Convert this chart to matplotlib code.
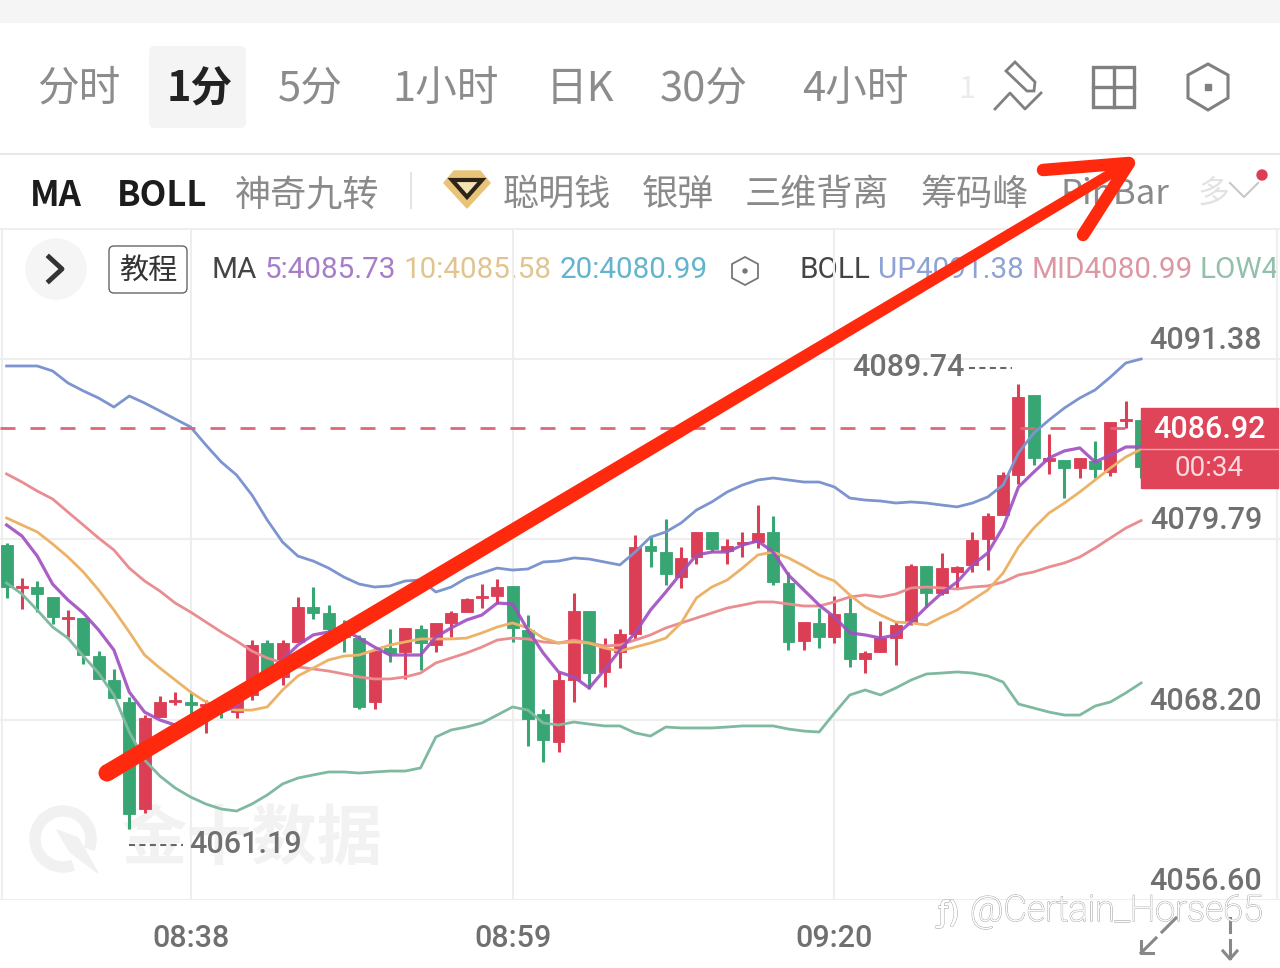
#1 minute candles with MA and BOLL lines, phone app style
import matplotlib
matplotlib.use("Agg")
import matplotlib.pyplot as plt
import matplotlib.patheffects as pe
from matplotlib.patches import Circle, FancyBboxPatch, Polygon, Rectangle, Wedge

opens = [4079.42, 4076.66, 4076.72, 4076.08, 4074.66, 4074.73, 4072.28, 4070.74, 4069.33, 4062.45,
         4068.36, 4069.33, 4069.33, 4069.07, 4069.14, 4068.68, 4069.78, 4073.12, 4070.94, 4073.19,
         4075.44, 4075.05, 4074.15, 4073.44, 4069.33, 4072.80, 4072.54, 4074.02, 4072.99, 4074.41,
         4075.11, 4076.02, 4076.15, 4076.79, 4073.96, 4068.56, 4066.76, 4070.74, 4075.18, 4071.26,
         4072.54, 4073.70, 4079.36, 4078.97, 4077.36, 4078.65, 4080.26, 4079.04, 4079.49, 4079.62,
         4080.26, 4076.98, 4073.25, 4074.41, 4073.51, 4075.05, 4072.09, 4072.54, 4073.44, 4074.41,
         4078.07, 4076.34, 4077.69, 4078.14, 4079.81, 4081.35, 4083.92, 4089.07, 4084.82, 4084.89,
         4084.37, 4084.82, 4084.12, 4087.39, 4087.46]
highs = [4079.55, 4077.30, 4077.11, 4076.08, 4075.24, 4074.73, 4072.60, 4071.45, 4069.65, 4068.49,
         4069.72, 4069.97, 4069.97, 4069.46, 4069.59, 4069.78, 4073.31, 4073.31, 4073.31, 4076.08,
         4076.72, 4075.56, 4074.60, 4073.64, 4072.80, 4074.02, 4074.09, 4074.28, 4074.41, 4075.18,
         4076.02, 4076.91, 4077.24, 4076.79, 4074.92, 4068.88, 4071.26, 4076.34, 4075.18, 4073.44,
         4074.02, 4080.06, 4079.93, 4081.09, 4079.29, 4080.26, 4080.26, 4079.81, 4080.26, 4081.99,
         4081.29, 4077.69, 4074.47, 4075.37, 4076.15, 4076.02, 4072.60, 4074.53, 4074.47, 4078.20,
         4078.07, 4078.91, 4078.07, 4080.26, 4081.48, 4084.11, 4089.74, 4089.07, 4086.56, 4084.89,
         4085.02, 4086.11, 4087.33, 4088.68, 4087.46]
lows = [4076.02, 4075.31, 4075.11, 4074.34, 4073.51, 4071.77, 4070.81, 4069.59, 4061.19, 4062.19,
        4068.36, 4069.14, 4068.36, 4067.34, 4068.30, 4068.30, 4069.46, 4070.42, 4070.42, 4073.19,
        4074.66, 4073.83, 4072.54, 4068.88, 4068.88, 4071.90, 4070.81, 4071.39, 4072.54, 4073.51,
        4075.11, 4075.37, 4075.63, 4073.19, 4066.50, 4065.47, 4066.11, 4069.33, 4070.16, 4070.29,
        4071.51, 4073.31, 4078.01, 4076.85, 4076.66, 4078.20, 4078.97, 4078.20, 4078.65, 4079.23,
        4076.85, 4072.67, 4072.67, 4072.80, 4073.12, 4071.58, 4071.19, 4072.54, 4071.71, 4074.28,
        4075.44, 4076.21, 4076.66, 4077.69, 4077.81, 4081.35, 4083.34, 4084.57, 4083.99, 4082.44,
        4083.73, 4083.73, 4083.86, 4086.94, 4083.73]
closes = [4076.72, 4076.79, 4076.27, 4074.79, 4074.79, 4072.35, 4070.81, 4069.59, 4062.13, 4068.30,
          4069.33, 4069.46, 4069.14, 4069.20, 4068.81, 4069.46, 4072.99, 4070.74, 4073.12, 4075.44,
          4075.05, 4074.02, 4073.51, 4069.01, 4072.60, 4072.48, 4074.09, 4073.12, 4074.41, 4075.05,
          4075.95, 4076.15, 4076.72, 4074.09, 4068.24, 4066.89, 4070.74, 4075.18, 4071.19, 4072.80,
          4073.70, 4079.29, 4079.04, 4077.56, 4078.59, 4080.26, 4079.16, 4079.36, 4079.62, 4080.19,
          4077.04, 4073.19, 4074.47, 4073.51, 4074.98, 4072.09, 4072.48, 4073.44, 4074.28, 4078.07,
          4076.34, 4077.94, 4078.01, 4079.74, 4081.28, 4083.92, 4088.94, 4085.02, 4085.02, 4084.37,
          4085.02, 4084.31, 4087.33, 4087.52, 4084.44]

ma5 = [4080.71, 4080.00, 4078.71, 4076.91, 4075.89, 4075.05, 4073.96, 4072.67, 4069.97, 4068.68,
       4068.17, 4067.85, 4067.72, 4068.17, 4068.68, 4069.07, 4070.10, 4071.26, 4072.03, 4072.99,
       4073.64, 4073.83, 4073.96, 4073.44, 4072.86, 4072.35, 4072.35, 4072.35, 4073.51, 4074.09,
       4074.60, 4074.92, 4075.69, 4075.63, 4073.96, 4072.48, 4071.26, 4070.94, 4070.23, 4071.39,
       4072.67, 4073.77, 4075.24, 4076.40, 4077.62, 4078.78, 4078.97, 4078.97, 4079.42, 4079.68,
       4078.97, 4077.49, 4076.53, 4075.56, 4074.79, 4073.77, 4073.64, 4073.44, 4073.64, 4074.47,
       4075.44, 4076.34, 4077.04, 4078.14, 4078.91, 4080.58, 4083.15, 4084.11, 4085.02, 4085.47,
       4085.66, 4084.76, 4085.21, 4085.72, 4085.73]
ma10 = [4081.16, 4080.71, 4080.26, 4079.49, 4078.65, 4077.69, 4076.53, 4075.24, 4073.83, 4072.35,
        4071.51, 4070.74, 4069.97, 4069.33, 4068.94, 4068.81, 4068.81, 4069.01, 4070.10, 4071.00,
        4071.51, 4072.03, 4072.28, 4072.35, 4072.67, 4072.99, 4073.19, 4073.38, 4073.38, 4073.38,
        4073.44, 4073.77, 4074.15, 4074.41, 4074.09, 4073.44, 4073.12, 4073.19, 4073.12, 4072.80,
        4072.60, 4072.86, 4073.12, 4073.44, 4074.41, 4076.02, 4076.72, 4077.17, 4077.94, 4078.78,
        4078.97, 4078.59, 4078.07, 4077.49, 4077.11, 4076.21, 4075.44, 4074.92, 4074.47, 4074.41,
        4074.28, 4074.79, 4075.24, 4075.89, 4076.53, 4077.62, 4079.29, 4080.51, 4081.48, 4082.12,
        4082.83, 4083.60, 4084.37, 4085.08, 4085.58]
boll_mid = [4083.99, 4083.47, 4082.89, 4082.38, 4081.54, 4080.71, 4079.87, 4079.10, 4077.94, 4077.11,
            4076.46, 4075.69, 4075.11, 4074.47, 4073.83, 4073.25, 4072.60, 4072.16, 4071.84, 4071.58,
            4071.45, 4071.32, 4071.13, 4070.94, 4070.81, 4070.81, 4070.94, 4071.19, 4071.84, 4072.16,
            4072.48, 4072.86, 4073.31, 4073.44, 4073.38, 4073.19, 4073.12, 4073.31, 4073.12, 4072.93,
            4072.99, 4073.31, 4073.64, 4074.09, 4074.41, 4074.73, 4075.05, 4075.37, 4075.56, 4075.76,
            4075.76, 4075.63, 4075.50, 4075.50, 4075.76, 4076.08, 4076.21, 4076.08, 4076.27, 4076.66,
            4076.72, 4076.66, 4076.59, 4076.72, 4076.79, 4077.04, 4077.49, 4077.69, 4078.01, 4078.27,
            4078.65, 4079.23, 4079.87, 4080.51, 4080.99]
boll_up = [4090.93, 4090.93, 4090.93, 4090.61, 4089.84, 4089.33, 4088.87, 4088.29, 4089.00, 4088.55,
           4088.04, 4087.52, 4087.01, 4085.85, 4084.76, 4083.92, 4082.64, 4081.03, 4079.61, 4078.71,
           4078.39, 4077.94, 4077.36, 4076.91, 4076.72, 4076.79, 4077.11, 4077.17, 4076.40, 4076.72,
           4077.30, 4077.62, 4077.94, 4077.81, 4077.88, 4078.33, 4078.39, 4078.59, 4078.52, 4078.33,
           4078.14, 4078.97, 4079.93, 4080.26, 4080.84, 4081.67, 4082.19, 4082.83, 4083.28, 4083.60,
           4083.73, 4083.60, 4083.47, 4083.47, 4083.15, 4082.44, 4082.31, 4082.25, 4082.12, 4082.19,
           4082.12, 4081.99, 4081.87, 4082.12, 4082.51, 4083.28, 4085.34, 4086.62, 4087.46, 4088.23,
           4088.87, 4089.39, 4090.22, 4091.12, 4091.38]
boll_low = [4076.98, 4076.27, 4075.24, 4074.15, 4073.44, 4072.28, 4071.19, 4069.78, 4067.40, 4065.60,
            4064.57, 4063.80, 4063.22, 4062.77, 4062.45, 4062.32, 4062.77, 4063.35, 4064.06, 4064.44,
            4064.64, 4064.83, 4064.83, 4064.76, 4064.83, 4064.89, 4064.89, 4065.09, 4067.08, 4067.53,
            4067.72, 4067.98, 4068.49, 4069.01, 4068.81, 4067.98, 4067.85, 4068.04, 4067.91, 4067.79,
            4067.79, 4067.34, 4067.14, 4067.72, 4067.66, 4067.66, 4067.66, 4067.72, 4067.79, 4067.79,
            4067.79, 4067.59, 4067.46, 4067.40, 4068.62, 4069.78, 4070.10, 4069.78, 4070.23, 4070.74,
            4071.13, 4071.19, 4071.26, 4071.19, 4071.00, 4070.61, 4069.20, 4068.94, 4068.68, 4068.49,
            4068.49, 4069.07, 4069.33, 4069.91, 4070.55]

price_ticks = [4091.38, 4079.79, 4068.20, 4056.60]
time_ticks = [12, 33, 54]
time_labels = ["08:38", "08:59", "09:20"]
last_price = 4086.92
countdown = "00:34"
high_price = 4089.74
low_price = 4061.19

tabs = ["分时", "1分", "5分", "1小时", "日K", "30分", "4小时"]
tab_left = [37, 167, 278, 392, 546, 660, 802]
tools = ["神奇九转", "聪明钱", "银弹", "三维背离", "筹码峰", "PinBar"]
tool_left = [235, 503, 642, 745, 920, 1060]

RED = "#dc3f55"
GREEN = "#38a673"
GRID = "#eeeeee"
CJK = ["Noto Sans CJK SC", "DejaVu Sans"]
NUM = ["Roboto", "DejaVu Sans"]
NUM_GREY = "#707070"

W, H = 1280, 968
fig = plt.figure(figsize=(W / 100, H / 100), dpi=100, facecolor="white")


def pixel_axes(order):
    a = fig.add_axes([0, 0, 1, 1], zorder=order)
    a.set_xlim(0, W)
    a.set_ylim(H, 0)
    a.axis("off")
    a.patch.set_alpha(0)
    return a


back = pixel_axes(1)
top = pixel_axes(3)

# top bar and tabs
back.add_patch(Rectangle((0, 0), W, 22, color="#f5f5f5"))
back.add_patch(FancyBboxPatch((152, 49), 91, 76, boxstyle="round,pad=3,rounding_size=6", color="#f4f4f4", lw=0))
for name, x in zip(tabs, tab_left):
    selected = name == "1分"
    back.text(x, 89, name, family=CJK, fontsize=30, va="center",
              color="#222222" if selected else "#8c8c8c", weight="bold" if selected else "normal")
back.text(958, 89, "1", family=CJK, fontsize=22, va="center", color="#ebebeb")
back.plot([0, W], [154, 154], color="#e8e8e8", lw=1.5)

# pencil, layout and settings icons
icon = "#808080"
back.add_patch(Polygon([(1015, 62), (1006, 71), (1027, 91), (1034, 91), (1035, 82)], fill=False, ec=icon, lw=2))
back.plot([995, 1010, 1025, 1041], [109, 93, 109, 93], color=icon, lw=2)
back.add_patch(Rectangle((1093, 67), 41, 40, fill=False, ec=icon, lw=2.4))
back.plot([1113.5, 1113.5], [67, 107], color=icon, lw=2.4)
back.plot([1093, 1134], [87, 87], color=icon, lw=2.4)
back.add_patch(Polygon([(1208, 64), (1228, 75), (1228, 98), (1208, 110), (1188, 98), (1188, 75)],
                       fill=False, ec=icon, lw=2.2))
back.add_patch(Rectangle((1205, 84), 6, 6, color=icon))

# indicator row
back.text(30, 195, "MA", family=CJK, fontsize=25, weight="bold", va="center", color="#1c1c1c")
back.text(117, 195, "BOLL", family=CJK, fontsize=25, weight="bold", va="center", color="#1c1c1c")
for name, x in zip(tools, tool_left):
    back.text(x, 195, name, family=CJK, fontsize=26 if name != "PinBar" else 25, va="center", color="#8a8a8a")
back.text(1198, 195, "多", family=CJK, fontsize=23, va="center", color="#e2e2e2")
back.plot([411, 411], [173, 208], color="#e4e4e4", lw=1.5)
back.add_patch(Polygon([(444, 183), (454, 171), (480, 171), (490, 183), (467, 208)], color="#e9c377"))
back.add_patch(Polygon([(452, 180), (482, 180), (467, 197)], fc="#f4e3b2", ec="#2b2418", lw=3))
back.plot([1230, 1244, 1258], [183, 197, 183], color="#c8c8c8", lw=1.5)
back.add_patch(Circle((1262, 175), 5, color=RED))

# legend row of the chart
back.add_patch(Circle((56, 269), 30, color="#f5f5f5"))
back.plot([49, 62, 49], [257, 269, 281], color="#333333", lw=3.5)
back.add_patch(FancyBboxPatch((112, 249), 72, 41, boxstyle="round,pad=3,rounding_size=5",
                              fc="white", ec="#666666", lw=1))
back.text(148, 271, "教程", family=CJK, fontsize=21, ha="center", va="center", color="#333333")
legend_items = [("MA", 211, "#444444"), ("5:4085.73", 265, "#a77cc8"), ("10:4085.58", 404, "#e2c48e"),
                ("20:4080.99", 560, "#63b4cf"), ("BOLL", 800, "#444444"), ("UP4091.38", 878, "#8ea2d6"),
                ("MID4080.99", 1032, "#dd97a3"), ("LOW4", 1200, "#93c0ab")]
for label, x, col in legend_items:
    back.text(x, 270, label, family="Roboto", fontsize=21.3, va="center", color=col)
back.add_patch(Polygon([(745, 257), (758, 264), (758, 278), (745, 285), (732, 278), (732, 264)],
                       fill=False, ec="#777777", lw=1.3))
back.add_patch(Circle((745, 271), 2, color="#777777"))

# faint logo behind the candles
back.add_patch(Wedge((63, 839), 33, 70, 380, width=10, color="#f1f1f1"))
back.add_patch(Polygon([(57, 830), (78, 838), (98, 873), (70, 852)], color="#f1f1f1"))
back.text(122, 840, "金十数据", family=CJK, fontsize=47, weight="bold", va="center", color="#f2f2f2")

# chart area, minute number on x and price on y
ax = fig.add_axes([0, (H - 900) / H, 1, (900 - 228) / H], zorder=2)
ax.patch.set_alpha(0)
ax.set_xlim(-0.43, 83.06)
ax.set_ylim(4056.60, 4099.80)
ax.set_xticks(time_ticks)
ax.set_xticklabels(time_labels, family=NUM, fontsize=22, weight="medium", color=NUM_GREY)
ax.set_yticks(price_ticks)
ax.tick_params(length=0, labelleft=False, pad=17)
ax.grid(True, color=GRID, lw=1.5)
ax.set_axisbelow(True)
for side in ax.spines:
    ax.spines[side].set_visible(False)
for x in [0.0015, 0.998]:
    ax.plot([x, x], [0, 1], transform=ax.transAxes, color=GRID, lw=1.5)
ax.plot([0, 1], [1, 1], transform=ax.transAxes, color=GRID, lw=2)

for i in range(len(opens)):
    col = RED if closes[i] >= opens[i] else GREEN
    ax.vlines(i, lows[i], highs[i], color=col, lw=2.2, zorder=3)
    ax.bar(i, abs(closes[i] - opens[i]), bottom=min(opens[i], closes[i]), width=0.78,
           color=col, edgecolor=col, lw=0.6, zorder=3)

minutes = range(len(ma5))
ax.plot(minutes, boll_up, color="#7c95cf", lw=2, zorder=4)
ax.plot(minutes, boll_low, color="#7fb9a0", lw=2, zorder=4)
ax.plot(minutes, boll_mid, color="#ea8d90", lw=2, zorder=4)
ax.plot(minutes, ma10, color="#ecb368", lw=2, zorder=4)
ax.plot(minutes, ma5, color="#a04fc0", lw=2.3, alpha=0.9, zorder=5)
ax.plot([-0.43, 74.4], [last_price, last_price], color="#df6878", lw=2,
        linestyle=(0, (5.4, 5.4)), zorder=4)

price_text = ["4091.38", "4079.79", "4068.20", "4056.60"]
for value, label in zip(price_ticks, price_text):
    ax.text(81.89, value + 0.64, label, family=NUM, fontsize=22, weight="medium", ha="right", va="baseline", color=NUM_GREY)

# high and low markers
ax.text(55.15, high_price + 1.06, f"{high_price:.2f}", family=NUM, fontsize=22, weight="medium", va="center", color=NUM_GREY)
ax.plot([62.8, 65.6], [high_price + 1.06, high_price + 1.06], color="#666666", lw=1.5, linestyle=(0, (2.9, 2.1)))
ax.text(11.9, low_price - 1.05, f"{low_price:.2f}", family=NUM, fontsize=22, weight="medium", va="center", color=NUM_GREY)
ax.plot([8, 11.5], [low_price - 1.05, low_price - 1.05], color="#666666", lw=1.5, linestyle=(0, (2.9, 2.1)))

# last price tag
top.add_patch(Rectangle((1141, 408), 137, 80, color="#e04458"))
top.plot([1141, 1278], [449, 449], color="#f4a9b3", lw=1)
top.text(1209, 429, f"{last_price:.2f}", family=NUM, fontsize=22, weight="medium", ha="center", va="center", color="white")
top.text(1209, 468, countdown, family=NUM, fontsize=20, ha="center", va="center", color="#fbd9de")

# bottom right arrows
top.plot([1141, 1156], [953, 938], color="#888888", lw=2.2)
top.plot([1141, 1141, 1153], [941, 953, 953], color="#888888", lw=2.2)
top.plot([1162, 1176], [932, 918], color="#888888", lw=2.2)
top.plot([1230, 1230], [940, 958], color="#888888", lw=2.2)
top.plot([1223, 1230, 1237], [951, 959, 951], color="#888888", lw=2.2)
top.plot([1230, 1230], [918, 932], color="#888888", lw=2.2)

# hand drawn red arrow, wider at its tail
red = "#ff2a0e"
top.add_patch(Polygon([(111.4, 780.3), (102.6, 765.7), (1124.4, 159.7), (1129.6, 168.3)], color=red, lw=0))
top.add_patch(Circle((107, 773), 8.5, color=red, lw=0))
top.plot([1043, 1129, 1083], [170, 163, 235], color=red, lw=9, solid_capstyle="round", solid_joinstyle="round")

# embossed account name
emboss = [pe.withStroke(linewidth=1, foreground="#b0b0b0"), pe.Normal()]
top.text(970, 911, "@Certain_Horse65", family="Roboto", weight="light", fontsize=26, va="center",
         color="white", path_effects=emboss)
top.text(938, 914, "ƒ)", family="DejaVu Sans", fontsize=21, va="center", color="white", path_effects=emboss)

fig.savefig("out.png", dpi=100)
